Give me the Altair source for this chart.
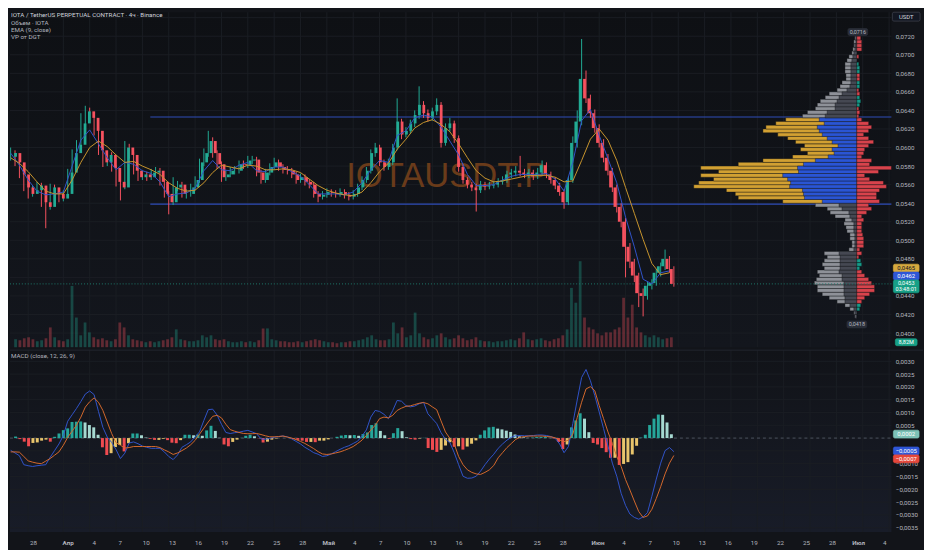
import altair as alt
import pandas as pd

FONT = "Roboto"
W, H1, H2 = 892, 339, 184
X_DOM = [-6.074, 94.263]          # days from 1 Apr
P_DOM = [0.038477, 0.074589]
M_DOM = [-0.003668, 0.003436]
VOL_DOM = [0, 33.9]
VP_DOM = [-35, 857]
BG = "#121419"
GRID = "#1a1d24"
AX = "#b2b5be"
UP, DN = "#22ab94", "#f7525f"

# ---------------- data (12h candles, 26 Mar 00:00 -> 9 Jun 12:00) ----------------
first_open_e4 = 590
close_e4 = [594,584,571,557,550,554,559,541,536,557,
550,545,550,573,594,603,626,639,632,618,
597,584,592,578,563,557,600,592,575,568,
571,568,573,575,563,550,541,557,560,550,
550,557,565,584,594,607,594,582,568,571,
575,575,582,581,586,587,573,565,573,579,
584,579,576,575,571,565,568,563,560,550,
547,549,552,551,550,552,549,547,550,557,
565,575,594,600,584,579,584,600,628,614,
618,626,635,646,637,632,639,646,605,621,
626,610,579,565,560,557,554,560,558,559,
560,563,565,571,573,575,573,571,573,569,
573,581,571,565,559,552,541,565,605,628,
674,653,637,621,605,589,575,557,536,520,
493,477,462,443,440,451,454,465,472,480,
469,453]
high_e4 = [600,597,587,574,561,559,563,562,545,561,
560,553,554,577,598,608,637,645,643,635,
621,600,596,595,581,566,607,604,595,578,
575,574,577,579,578,566,553,568,564,563,
555,561,569,588,599,618,611,597,585,575,
579,580,586,586,591,591,590,576,577,583,
589,587,582,580,578,574,572,571,566,563,
553,553,556,555,554,556,555,552,554,561,
569,579,598,605,603,587,588,604,653,631,
622,630,640,666,650,641,643,653,649,626,
632,629,613,582,568,563,561,564,563,563,
564,567,569,575,577,580,591,577,577,576,
578,586,584,574,568,562,555,569,612,640,
717,683,657,641,625,609,593,578,560,540,
524,497,480,465,448,455,458,469,476,490,
483,472]
low_e4 = [586,580,567,553,545,547,551,536,513,533,
546,541,542,548,570,590,600,622,627,613,
592,579,580,574,558,543,555,588,571,564,
565,564,565,570,559,546,528,538,553,546,
545,547,554,562,580,590,589,577,563,564,
568,571,572,577,578,582,569,561,562,570,
576,575,572,571,567,561,562,559,556,546,
541,544,546,547,546,547,545,543,544,547,
554,562,572,590,580,575,576,581,597,609,
611,615,622,631,632,628,629,635,600,602,
617,605,574,561,556,553,531,551,554,555,
556,557,560,562,567,569,569,567,567,565,
566,570,567,561,555,548,534,538,562,600,
624,648,632,616,600,584,570,552,530,514,
460,470,455,428,418,436,447,451,461,468,
465,450]
volume_m = [0.8,0.7,0.9,1.0,0.8,0.6,0.7,0.9,2.0,1.0,
0.7,0.6,0.8,6.2,3.0,1.2,2.5,1.5,1.0,0.8,
0.9,0.7,0.6,0.8,2.5,2.0,1.2,0.8,0.7,0.6,
0.5,0.6,0.5,0.6,0.7,0.8,1.0,1.8,0.8,0.7,
0.6,0.6,0.7,1.2,1.0,1.2,0.8,0.7,0.8,0.6,
0.5,0.5,0.6,0.5,0.6,0.5,0.7,1.9,1.9,0.8,
0.7,0.6,0.6,0.5,0.5,0.6,0.5,0.6,0.7,0.8,
0.7,0.6,0.5,0.5,0.4,0.5,0.5,0.6,0.6,0.7,
0.8,1.0,1.2,0.8,0.7,0.7,0.8,2.5,1.4,2.0,
1.0,1.2,3.5,1.4,1.0,0.8,0.9,1.2,1.4,1.0,
0.8,0.9,1.2,0.9,0.7,0.8,1.0,0.7,0.6,0.6,
0.5,0.6,0.6,0.7,0.8,0.7,0.9,1.5,0.8,0.7,
0.8,0.9,0.7,0.6,0.8,0.9,1.2,1.8,6.0,4.5,
8.7,3.0,2.0,1.8,1.4,1.2,1.5,1.5,1.8,2.0,
5.0,3.0,4.3,2.0,1.5,1.2,1.0,1.2,1.0,0.8,
0.9,1.0]
macd_e4 = [-4.8,-5.8,-6.9,-10.4,-10.8,-11.1,-10.8,-10.6,-10.4,-7.5,
-4.9,-2.3,1.0,6.6,9.1,11.6,14.3,17.2,18.4,17.0,
10.4,4.2,0.4,-1.7,-4.5,-8.0,-5.9,-1.9,-1.5,-2.2,
-3.1,-3.6,-4.0,-4.0,-4.0,-5.4,-7.2,-8.4,-6.6,-3.6,
-2.6,-1.5,0.5,2.4,6.9,11.1,11.3,9.0,5.4,2.2,
1.8,2.1,2.3,2.7,3.0,2.4,1.7,-0.3,-0.5,-0.1,
0.3,0.6,0.8,0.5,-0.3,-1.3,-2.3,-3.6,-4.6,-5.7,
-6.3,-7.2,-6.9,-6.2,-5.3,-4.4,-3.6,-3.0,-2.1,-1.2,
0.8,3.2,8.2,10.8,10.4,9.3,7.6,10.8,14.7,14.4,
12.7,12.2,12.5,13.4,14.0,9.5,7.6,5.7,2.1,-0.5,
-1.7,-5.7,-10.4,-14.9,-15.7,-15.6,-14.9,-12.9,-10.4,-8.2,
-6.3,-4.0,-2.3,-0.8,0.3,0.9,1.0,0.9,0.9,1.0,
1.2,1.2,1.0,0.6,-0.1,-2.3,-5.7,-3.3,5.7,14.9,
23.7,26.8,22.4,16.6,10.2,3.7,-3.1,-9.8,-14.9,-21.6,
-26.3,-29.7,-31.0,-31.7,-30.8,-29.1,-22.7,-16.0,-9.8,-4.9,
-3.7,-5.3]
signal_e4 = [-5.4,-5.4,-5.5,-7.2,-8.9,-9.4,-9.8,-10.0,-9.0,-8.0,
-6.7,-5.4,-2.8,0.3,2.7,5.1,8.2,12.1,14.2,15.7,
14.0,10.8,6.3,1.8,-1.8,-2.8,-3.9,-3.7,-3.3,-3.3,
-3.3,-3.3,-3.3,-3.3,-3.7,-4.6,-5.4,-6.4,-5.8,-4.9,
-3.9,-2.6,-0.9,1.5,3.9,6.3,8.5,8.9,7.9,5.4,
3.3,2.7,2.2,1.8,1.7,1.7,1.8,1.4,0.9,0.5,
0.5,0.6,0.8,0.4,0.0,-0.6,-1.3,-2.1,-3.1,-4.1,
-5.3,-6.2,-6.4,-6.2,-5.8,-5.4,-4.8,-4.1,-3.3,-2.1,
-0.8,1.0,3.1,5.0,7.6,8.2,7.9,8.9,10.8,11.7,
12.4,12.6,13.1,13.6,13.9,13.4,12.2,11.1,6.7,2.4,
-0.1,-2.3,-7.2,-10.4,-12.4,-13.4,-14.0,-14.2,-13.4,-12.4,
-10.7,-7.7,-5.7,-3.7,-2.1,-0.5,0.3,0.6,0.8,0.8,
0.8,0.8,0.6,0.5,0.1,-0.8,-1.4,-0.8,1.5,8.0,
14.0,19.2,20.1,18.5,12.7,7.6,2.4,-2.1,-7.2,-11.1,
-16.2,-20.3,-24.6,-28.7,-31.0,-30.4,-27.8,-23.6,-19.0,-14.0,
-9.8,-6.8]
# EMA lines, one reading per day (26 Mar ... 9 Jun)
ema_fast_e4 = [594,581,565,553,549,550,552,580,608,619,
604,589,576,584,582,575,572,563,547,550,
551,556,575,586,576,575,581,584,575,574,
579,579,574,569,560,550,550,550,549,552,
562,576,586,584,613,618,632,635,633,622,
607,592,571,559,559,560,565,569,571,571,
571,572,566,553,584,629,641,613,588,562,
525,493,458,453,465,467]
ema_slow_e4 = [589,583,574,563,553,550,550,565,584,600,
607,601,592,584,585,580,576,571,562,556,
553,554,562,573,581,579,577,581,580,576,
576,577,576,573,566,559,554,551,549,548,
552,562,574,583,598,609,621,627,630,625,
617,604,589,575,567,563,564,566,568,570,
570,570,568,563,564,586,609,620,608,586,
557,529,501,475,463,465]
# volume profile rows of 0.0004 starting at 0.0416
vp_total = [2,3,7,12,20,28,35,40,40,43,41,38,40,33,35,33,30,33,8,5,
5,7,7,10,11,13,12,22,27,30,42,
75,120,123,132,165,160,145,158,140,158,120,95,65,50,57,53,62,70,80,95,92,82,72,
55,50,42,40,37,32,28,20,17,15,11,11,12,12,12,10,8,5,4,3,3,2]
vp_inner = [1,2,3,7,12,12,13,13,13,13,15,15,18,17,17,17,17,18,3,2,
2,2,2,3,3,3,5,7,8,15,18,
35,53,54,55,68,67,70,75,59,60,54,42,29,23,25,19,25,30,35,38,40,33,38,
32,30,22,22,20,18,15,10,7,6,6,6,6,6,6,5,4,3,2,2,1,1]
vp_delta = [0,0,3,4,-5,-8,-13,-18,-18,-15,-12,-8,-5,3,5,4,-2,-5,-3,-7,
-7,-7,-6,-5,-5,-5,-7,-5,-10,-15,-12,
-23,-20,-20,-23,-30,-27,-13,-8,-22,-35,-13,-15,-5,-7,-8,-12,-17,-12,-7,-12,-15,-12,-5,
-2,-3,-2,3,4,3,-3,-2,3,3,-3,-3,3,3,2,0,-2,0,-5,-5,-5,-4]
vp_start_e4, vp_step_e4 = 416, 4
va_low, va_high = 0.0539, 0.0633
va_start_day = 9.9

price_ticks = [0.040,0.042,0.044,0.046,0.048,0.050,0.052,0.054,0.056,0.058,
               0.060,0.062,0.064,0.066,0.068,0.070,0.072,0.074]
price_hidden = [0.046, 0.074]          # labels covered by the scale badges
macd_ticks = [-0.0035,-0.0030,-0.0025,-0.0020,-0.0015,-0.0010,-0.0005,0.0,
              0.0005,0.0010,0.0015,0.0020,0.0025,0.0030]
macd_hidden = [0.0, -0.0005]
tick_days = [-4,0,3,6,9,12,15,18,21,24,27,30,33,36,39,42,45,48,51,54,57,
             61,64,67,70,73,76,79,82,85,88,91,94]
tick_labels = ["28","Апр","4","7","10","13","16","19","22","25","28","Май","4","7",
               "10","13","16","19","22","25","28","Июн","4","7","10","13","16","19",
               "22","25","28","Июл","4"]
month_days = [0,30,61,91]

# ---------------- frames ----------------
n = len(close_e4)
t = [-6.0 + 0.5 * i for i in range(n)]
opens = [first_open_e4] + close_e4[:-1]
cd = pd.DataFrame({
    "t": t,
    "o": [v / 1e4 for v in opens],
    "c": [v / 1e4 for v in close_e4],
    "h": [v / 1e4 for v in high_e4],
    "l": [v / 1e4 for v in low_e4],
    "vol": volume_m,
})
cd["col"] = [UP if c >= o else DN for o, c in zip(cd["o"], cd["c"])]

ema = pd.DataFrame({"t": [-6.0 + k for k in range(len(ema_fast_e4))],
                    "fast": [v / 1e4 for v in ema_fast_e4],
                    "slow": [v / 1e4 for v in ema_slow_e4]})

md = pd.DataFrame({"t": t, "m": [v / 1e4 for v in macd_e4], "s": [v / 1e4 for v in signal_e4]})
md["h"] = md["m"] - md["s"]
prev = md["h"].shift(1).fillna(md["h"])
cols = []
for h, p in zip(md["h"], prev):
    if h >= 0:
        cols.append("#26a69a" if h >= p else "#a6d9d1")
    else:
        cols.append("#ef4b50" if h < p else "#e8c46c")
md["col"] = cols

rows = len(vp_total)
vp = pd.DataFrame({
    "lo": [(vp_start_e4 + vp_step_e4 * r) / 1e4 for r in range(rows)],
    "hi": [(vp_start_e4 + vp_step_e4 * (r + 1)) / 1e4 for r in range(rows)],
    "total": vp_total, "inner": vp_inner, "delta": vp_delta,
})
vp["zero"] = 0
vp["dneg"] = -vp["delta"].abs()
in_va = (vp["lo"] >= va_low - 1e-9) & (vp["hi"] <= va_high + 1e-9)
vp["ocol"] = ["#d2a032" if v else "#8e9198" for v in in_va]
vp["icol"] = ["#2a55d4" if v else "#454852" for v in in_va]
vp["dcol"] = ["#159a88" if d > 0 else "#d8434c" for d in vp["delta"]]
vpd = vp[vp["delta"] != 0]

xs = alt.Scale(domain=X_DOM, nice=False, zero=False)
ps = alt.Scale(domain=P_DOM, nice=False, zero=False)
ms = alt.Scale(domain=M_DOM, nice=False, zero=False)
vps = alt.Scale(domain=VP_DOM, nice=False, zero=False, reverse=True)
one = pd.DataFrame({"a": [0]})


def comma_expr(fmt, hidden):
    cond = " || ".join("abs(datum.value - (%s)) < 1e-9" % v for v in hidden)
    return "(%s) ? '' : replace(format(datum.value, '%s'), '.', ',')" % (cond, fmt)


def grad_rect(h, c1, c2):
    return alt.Chart(one).mark_rect(
        color=alt.LinearGradient(gradient="linear",
                                 stops=[alt.GradientStop(color=c1, offset=0),
                                        alt.GradientStop(color=c2, offset=1)],
                                 x1=0, x2=0, y1=0, y2=1)
    ).encode(x=alt.value(0), x2=alt.value(W), y=alt.value(0), y2=alt.value(h))


def txt_mark(x, y, txt, col, size, align="center", weight="normal"):
    return alt.Chart(one).mark_text(text=txt, color=col, fontSize=size, font=FONT,
                                    align=align, baseline="middle", fontWeight=weight).encode(
        x=alt.value(x), y=alt.value(y))


def box(cx, cy, w, h, fill, lines, tcol, stroke=None, size=6.0):
    r = alt.Chart(one).mark_rect(fill=fill, stroke=stroke or fill, strokeWidth=0.7,
                                 cornerRadius=1.5).encode(
        x=alt.value(cx - w / 2), x2=alt.value(cx + w / 2),
        y=alt.value(cy - h / 2), y2=alt.value(cy + h / 2))
    if isinstance(lines, str):
        lines = [lines]
    k = len(lines)
    out = [r]
    for j, s in enumerate(lines):
        yy = cy + (j - (k - 1) / 2) * 6.2
        out.append(txt_mark(cx, yy, s, tcol, size))
    return out


def label(x, y, txt, col=AX, size=6.3, weight="normal"):
    return txt_mark(x, y, txt, col, size, align="left", weight=weight)


# ---------------- price pane ----------------
vgrid = alt.Chart(pd.DataFrame({"t": tick_days})).mark_rule(color=GRID, strokeWidth=1).encode(
    x=alt.X("t:Q", scale=xs, axis=None))
pgrid = alt.Chart(pd.DataFrame({"p": price_ticks})).mark_rule(color=GRID, strokeWidth=1).encode(
    y=alt.Y("p:Q", scale=ps, axis=None))

watermark = alt.Chart(one).mark_text(text="IOTAUSDT.P", fontSize=35, font="Liberation Sans",
                                     color="#6a3b1a", align="center", baseline="middle").encode(
    x=alt.value(442), y=alt.value(166))

vol = alt.Chart(cd).mark_bar(size=2.8, opacity=0.34).encode(
    x=alt.X("t:Q", scale=xs, axis=None),
    y=alt.Y("vol:Q", scale=alt.Scale(domain=VOL_DOM, nice=False), axis=None),
    color=alt.Color("col:N", scale=None))

va_df = pd.DataFrame({"p": [va_high, va_low], "t1": [va_start_day] * 2, "t2": [X_DOM[1]] * 2})
va_lines = alt.Chart(va_df).mark_rule(color="#2e4cb8", strokeWidth=1.1).encode(
    x=alt.X("t1:Q", scale=xs, axis=None), x2="t2:Q",
    y=alt.Y("p:Q", scale=ps, axis=None))

vp_outer = alt.Chart(vp).mark_rect(stroke="#0f1115", strokeWidth=0.4).encode(
    x=alt.X("total:Q", scale=vps, axis=None), x2="zero:Q",
    y=alt.Y("lo:Q", scale=ps, axis=None), y2="hi:Q",
    color=alt.Color("ocol:N", scale=None))
vp_inner_l = alt.Chart(vp).mark_rect(stroke="#0f1115", strokeWidth=0.4).encode(
    x=alt.X("inner:Q", scale=vps, axis=None), x2="zero:Q",
    y=alt.Y("lo:Q", scale=ps, axis=None), y2="hi:Q",
    color=alt.Color("icol:N", scale=None))
vp_delta_l = alt.Chart(vpd).mark_rect(stroke="#0f1115", strokeWidth=0.4).encode(
    x=alt.X("zero:Q", scale=vps, axis=None), x2="dneg:Q",
    y=alt.Y("lo:Q", scale=ps, axis=None), y2="hi:Q",
    color=alt.Color("dcol:N", scale=None))

last_df = pd.DataFrame({"p": [cd["c"].iloc[-1]]})
last_line = alt.Chart(last_df).mark_rule(color="#1d7a6c", strokeWidth=1, strokeDash=[1, 2]).encode(
    x=alt.value(0), x2=alt.value(W), y=alt.Y("p:Q", scale=ps, axis=None))

wick = alt.Chart(cd).mark_rule(strokeWidth=1).encode(
    x=alt.X("t:Q", scale=xs, axis=None),
    y=alt.Y("l:Q", scale=ps, axis=alt.Axis(
        orient="right", values=price_ticks, labelExpr=comma_expr(".4f", price_hidden),
        grid=False, domain=False, ticks=False, labelPadding=4, labelColor=AX,
        labelFontSize=6.3, labelFont=FONT, labelOverlap=False, title=None)),
    y2="h:Q",
    color=alt.Color("col:N", scale=None))
body = alt.Chart(cd).mark_bar(size=2.8).encode(
    x=alt.X("t:Q", scale=xs, axis=None),
    y=alt.Y("o:Q", scale=ps, axis=None), y2="c:Q",
    color=alt.Color("col:N", scale=None))

ema_fast = alt.Chart(ema).mark_line(color="#3153c9", strokeWidth=1).encode(
    x=alt.X("t:Q", scale=xs, axis=None), y=alt.Y("fast:Q", scale=ps, axis=None))
ema_slow = alt.Chart(ema).mark_line(color="#c8952e", strokeWidth=1).encode(
    x=alt.X("t:Q", scale=xs, axis=None), y=alt.Y("slow:Q", scale=ps, axis=None))

legend_txt = [
    label(1, 3, "IOTA / TetherUS PERPETUAL CONTRACT · 4ч · Binance", "#d1d4dc"),
    label(1, 10.5, "Объем · IOTA"),
    label(1, 18, "EMA (9, close)"),
    label(1, 25.5, "VP от DGT"),
]
price_boxes = (box(907, 4.5, 28, 9, "#131722", "USDT", "#d1d4dc", stroke="#434651")
               + box(858, 20, 20, 7, "#2a2e39", "0,0716", "#b2b5be", size=5.5)
               + box(857, 316, 20, 7, "#2a2e39", "0,0418", "#b2b5be", size=5.5)
               + box(907, 259, 26, 8, "#d6a93e", "0,0465", "#131722")
               + box(907, 267, 26, 8, "#2f56d6", "0,0462", "#ffffff")
               + box(907, 277.5, 26, 13, "#17a086", ["0,0453", "03:48:01"], "#ffffff", size=5.6)
               + box(907, 334, 22, 7, "#17a086", "8,82M", "#ffffff", size=5.6))

price_pane = alt.layer(
    grad_rect(H1, "#0e1014", "#13161d"), vgrid, pgrid, watermark, vol, va_lines,
    vp_outer, vp_inner_l, vp_delta_l, last_line, wick, body, ema_fast, ema_slow,
    *legend_txt, *price_boxes
).resolve_scale(x="independent", y="independent").properties(width=W, height=H1)

# ---------------- MACD pane ----------------
mgrid = alt.Chart(pd.DataFrame({"m": macd_ticks})).mark_rule(color=GRID, strokeWidth=1).encode(
    y=alt.Y("m:Q", scale=ms, axis=None))
zero_line = alt.Chart(pd.DataFrame({"m": [0.0]})).mark_rule(
    color="#4c5260", strokeWidth=1, strokeDash=[3, 3]).encode(
    x=alt.value(0), x2=alt.value(W), y=alt.Y("m:Q", scale=ms, axis=None))

bold_test = "indexof([%s], datum.value) >= 0" % ",".join(str(v) for v in month_days)
x_label_expr = "[%s][indexof([%s], datum.value)]" % (
    ",".join("'%s'" % s for s in tick_labels), ",".join(str(v) for v in tick_days))

hist = alt.Chart(md).mark_bar(size=3.0).encode(
    x=alt.X("t:Q", scale=xs, axis=alt.Axis(
        values=tick_days, labelExpr=x_label_expr, grid=False, domain=False, ticks=False,
        labelPadding=8, labelColor=AX, labelFontSize=6.3, labelFont=FONT,
        labelOverlap=False, labelFlush=False, title=None,
        labelFontWeight={"condition": {"test": bold_test, "value": "bold"}, "value": "normal"})),
    y=alt.Y("h:Q", scale=ms, axis=alt.Axis(
        orient="right", values=macd_ticks, labelExpr=comma_expr(".4f", macd_hidden),
        grid=False, domain=False, ticks=False, labelPadding=4, labelColor=AX,
        labelFontSize=6.3, labelFont=FONT, labelOverlap=False, title=None)),
    color=alt.Color("col:N", scale=None))
macd_line = alt.Chart(md).mark_line(color="#3153c9", strokeWidth=1).encode(
    x=alt.X("t:Q", scale=xs, axis=None), y=alt.Y("m:Q", scale=ms, axis=None))
sig_line = alt.Chart(md).mark_line(color="#d4692c", strokeWidth=1).encode(
    x=alt.X("t:Q", scale=xs, axis=None), y=alt.Y("s:Q", scale=ms, axis=None))
sep = alt.Chart(one).mark_rule(color="#22262f", strokeWidth=1).encode(
    x=alt.value(0), x2=alt.value(W + 32), y=alt.value(0))

macd_boxes = (box(907, 85, 26, 8, "#7cc2b7", "0,0002", "#ffffff")
              + box(907, 102, 26, 8, "#2f56d6", "−0,0005", "#ffffff")
              + box(907, 110, 26, 8, "#e5473b", "−0,0007", "#ffffff"))

macd_pane = alt.layer(
    grad_rect(H2, "#111318", "#181c28"), vgrid, mgrid, zero_line, hist, macd_line, sig_line, sep,
    label(1, 6, "MACD (close, 12, 26, 9)"), *macd_boxes
).resolve_scale(x="independent", y="independent").properties(width=W, height=H2)

chart = alt.vconcat(price_pane, macd_pane, spacing=1).properties(
    background=BG, padding=0
).configure_view(strokeWidth=0)

chart.save("out.html", embed_options={"renderer": "svg", "actions": False})
